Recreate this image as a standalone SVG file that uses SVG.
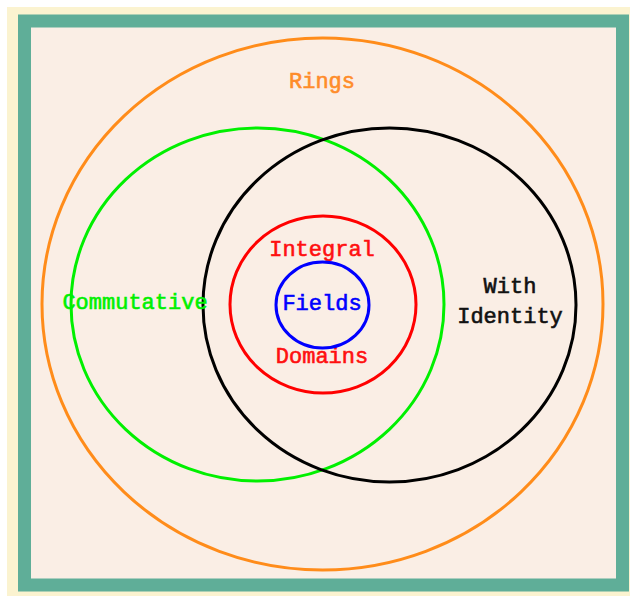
<svg xmlns="http://www.w3.org/2000/svg" width="630" height="596" viewBox="0 0 630 596">
  <style>
    .set { fill: none; stroke-width: 3; }
    .lbl { font-family: "Liberation Mono", "Courier New", monospace; font-size: 22px; text-anchor: middle; stroke-width: 0.6; }
  </style>
  <!-- frame -->
  <rect x="7" y="7" width="623" height="589" fill="#fbf3d0"/>
  <rect x="24.5" y="21" width="598" height="564" fill="#faeee5" stroke="#5fae98" stroke-width="13"/>

  <g id="rings">
    <ellipse class="set" cx="322.5" cy="304" rx="280.5" ry="266" stroke="#ff8c1a"/>
    <text class="lbl" x="322" y="88" fill="#ff8c2a" stroke="#ff8c2a">Rings</text>
  </g>
  <g id="commutative">
    <ellipse class="set" cx="257.5" cy="304.5" rx="186.5" ry="176.5" stroke="#00f000"/>
  </g>
  <g id="with-identity">
    <ellipse class="set" cx="389.5" cy="305" rx="186.5" ry="177" stroke="#000000"/>
    <text class="lbl" x="510" y="293" fill="#111111" stroke="#111111">With</text>
    <text class="lbl" x="510" y="323" fill="#111111" stroke="#111111">Identity</text>
  </g>
  <g id="integral-domains">
    <ellipse class="set" cx="323" cy="304.5" rx="93" ry="88.5" stroke="#ff0000"/>
    <text class="lbl" x="322" y="256" fill="#ff1010" stroke="#ff1010">Integral</text>
    <text class="lbl" x="322" y="363" fill="#ff1010" stroke="#ff1010">Domains</text>
  </g>
  <g id="fields">
    <ellipse class="set" cx="322.5" cy="305" rx="46.5" ry="43" stroke="#0000ff"/>
    <text class="lbl" x="322" y="310" fill="#0000ff" stroke="#0000ff">Fields</text>
  </g>
  <g id="commutative-label">
    <text class="lbl" x="135" y="309" fill="#00f000" stroke="#00f000">Commutative</text>
  </g>
  <g id="connectors"/>
</svg>
